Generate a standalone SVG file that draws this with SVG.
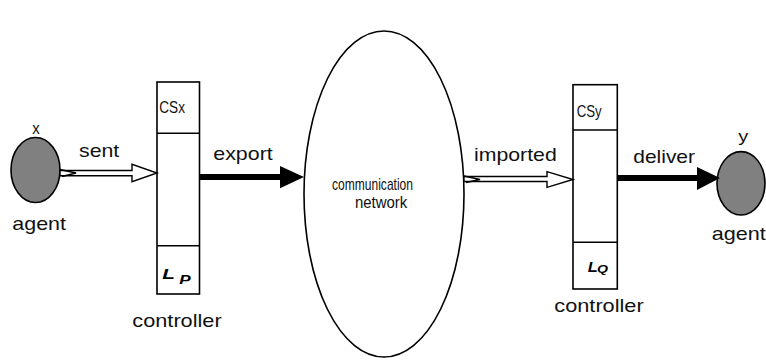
<svg xmlns="http://www.w3.org/2000/svg" width="766" height="364" viewBox="0 0 766 364">
  <style>
    .outline { fill: none; stroke: #000; stroke-width: 1.6; }
    .box { fill: #fff; stroke: #000; stroke-width: 1.6; }
    .agent { fill: #808080; stroke: #000; stroke-width: 1.6; }
    .lbl { font-family: "Liberation Sans", Arial, sans-serif; font-size: 19px; fill: #111; }
    .small { font-family: "Liberation Sans", Arial, sans-serif; font-size: 17px; fill: #111; }
    .sym { font-family: "Liberation Sans", Arial, sans-serif; font-weight: bold; font-style: italic; fill: #000; }
    .hollow { fill: #fff; stroke: #000; stroke-width: 1.4; stroke-linejoin: miter; }
    .solid { stroke: #000; stroke-width: 6; }
    .head { fill: #000; stroke: none; }
  </style>

  <!-- sending agent -->
  <g id="agent-x">
    <ellipse class="agent" cx="35.5" cy="170" rx="24.5" ry="32.5"/>
    <text class="small" x="36" y="134" text-anchor="middle" textLength="7.5" lengthAdjust="spacingAndGlyphs">x</text>
    <text class="lbl" x="12.3" y="230" textLength="53.7" lengthAdjust="spacingAndGlyphs">agent</text>
  </g>

  <!-- sending controller -->
  <g id="controller-p">
    <rect class="box" x="157" y="82" width="42.5" height="212"/>
    <line class="outline" x1="157" y1="133.3" x2="199.5" y2="133.3"/>
    <line class="outline" x1="157" y1="245.7" x2="199.5" y2="245.7"/>
    <text class="small" x="159.3" y="113.3" font-size="16" textLength="25.7" lengthAdjust="spacingAndGlyphs">CSx</text>
    <text class="sym" x="162.3" y="279" font-size="14" textLength="12.7" lengthAdjust="spacingAndGlyphs">L</text>
    <text class="sym" x="179.3" y="284.3" font-size="12" textLength="11.4" lengthAdjust="spacingAndGlyphs">P</text>
    <text class="lbl" x="132.3" y="327" textLength="89.4" lengthAdjust="spacingAndGlyphs">controller</text>
  </g>

  <!-- network -->
  <g id="network">
    <ellipse class="outline" cx="384" cy="194" rx="80" ry="163"/>
    <text class="small" x="332" y="190" font-size="14" textLength="81" lengthAdjust="spacingAndGlyphs">communication</text>
    <text class="small" x="355" y="208" font-size="14" textLength="52.3" lengthAdjust="spacingAndGlyphs">network</text>
  </g>

  <!-- receiving controller -->
  <g id="controller-q">
    <rect class="box" x="573" y="84.7" width="44.3" height="204.3"/>
    <line class="outline" x1="573" y1="130" x2="617.3" y2="130"/>
    <line class="outline" x1="573" y1="242.3" x2="617.3" y2="242.3"/>
    <text class="small" x="576.7" y="116.7" font-size="14" textLength="25" lengthAdjust="spacingAndGlyphs">CSy</text>
    <text class="sym" x="587.7" y="271.7" font-size="14" textLength="10" lengthAdjust="spacingAndGlyphs">L</text>
    <text class="sym" x="597" y="273.3" font-size="11" textLength="11" lengthAdjust="spacingAndGlyphs">Q</text>
    <text class="lbl" x="554.3" y="312" textLength="89.4" lengthAdjust="spacingAndGlyphs">controller</text>
  </g>

  <!-- receiving agent -->
  <g id="agent-y">
    <ellipse class="agent" cx="741" cy="183.3" rx="24" ry="31.7"/>
    <text class="small" x="743.3" y="141.7" text-anchor="middle" textLength="10" lengthAdjust="spacingAndGlyphs">y</text>
    <text class="lbl" x="711.7" y="240" textLength="54" lengthAdjust="spacingAndGlyphs">agent</text>
  </g>

  <!-- connectors -->
  <g id="connectors">
    <!-- sent: hollow arrow with broken tail -->
    <g id="sent">
      <path class="hollow" d="M60,170.5 L132,170.5 L132,164.3 L157,173 L132,181.7 L132,175.7 L60,175.7 Z"/>
      <polyline class="outline" stroke-width="1.2" points="60,169.5 76,173 62,176.5"/>
      <text class="lbl" x="79" y="157.3" textLength="40.3" lengthAdjust="spacingAndGlyphs">sent</text>
    </g>
    <!-- export: solid arrow -->
    <g id="export">
      <line class="solid" x1="199.5" y1="177" x2="282" y2="177"/>
      <polygon class="head" points="280,166 304,177 280,188.3"/>
      <text class="lbl" x="213.3" y="160" textLength="59.4" lengthAdjust="spacingAndGlyphs">export</text>
    </g>
    <!-- imported: hollow arrow with broken tail -->
    <g id="imported">
      <path class="hollow" d="M464,176.5 L547,176.5 L547,171.7 L573,179.5 L547,187.3 L547,181.5 L464,181.5 Z"/>
      <polyline class="outline" stroke-width="1.2" points="464,176 480,179.5 466,182.5"/>
      <text class="lbl" x="474" y="160.7" textLength="82.7" lengthAdjust="spacingAndGlyphs">imported</text>
    </g>
    <!-- deliver: solid arrow -->
    <g id="deliver">
      <line class="solid" x1="617.3" y1="178" x2="699" y2="178"/>
      <polygon class="head" points="697,167 720,178 697,190"/>
      <text class="lbl" x="633.3" y="163.3" textLength="61.7" lengthAdjust="spacingAndGlyphs">deliver</text>
    </g>
  </g>
</svg>
